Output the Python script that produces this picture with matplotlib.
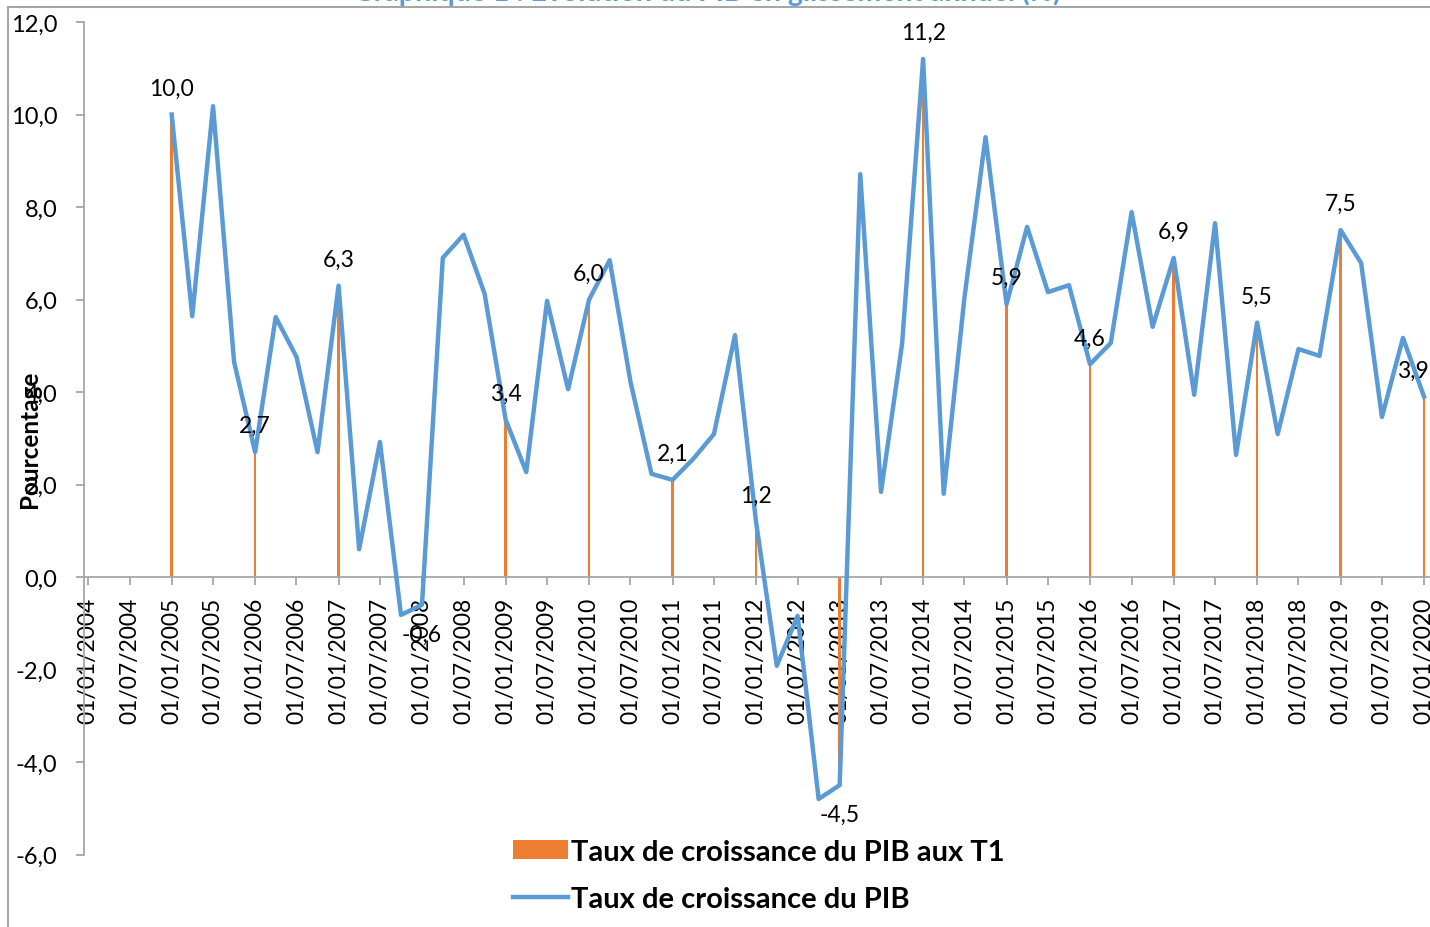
import matplotlib
matplotlib.use("Agg")
import matplotlib.pyplot as plt
import matplotlib.dates as mdates
from matplotlib.lines import Line2D
from matplotlib.ticker import FuncFormatter
import pandas as pd

# quarterly GDP growth (year-on-year, %), 2005Q1 .. 2020Q1
quarters = pd.date_range("2005-01-01", "2020-01-01", freq="QS")
pib = [10.0, 5.64, 10.18, 4.65,
       2.7, 5.62, 4.76, 2.7,
       6.3, 0.6, 2.92, -0.82,
       -0.6, 6.9, 7.4, 6.12,
       3.4, 2.27, 5.97, 4.06,
       6.0, 6.85, 4.22, 2.23,
       2.1, 2.55, 3.09, 5.23,
       1.2, -1.92, -0.84, -4.8,
       -4.5, 8.71, 1.84, 5.04,
       11.2, 1.8, 6.05, 9.51,
       5.9, 7.57, 6.16, 6.31,
       4.6, 5.06, 7.89, 5.41,
       6.9, 3.94, 7.65, 2.64,
       5.5, 3.09, 4.93, 4.78,
       7.5, 6.79, 3.46, 5.17,
       3.9]

# first quarter of each year
t1_dates = pd.date_range("2005-01-01", "2020-01-01", freq="YS")
t1_values = [10.0, 2.7, 6.3, -0.6, 3.4, 6.0, 2.1, 1.2, -4.5, 11.2,
             5.9, 4.6, 6.9, 5.5, 7.5, 3.9]

tick_dates = pd.date_range("2004-01-01", "2020-01-01", freq="6MS")

blue = "#5b9bd5"
orange = "#ed7d31"
grey = "#a6a6a6"
font = ["Lato", "DejaVu Sans"]

plt.rcParams["font.family"] = font

W, H = 1430, 928
fig = plt.figure(figsize=(W / 100, H / 100), dpi=100)
ax = fig.add_axes([84 / W, 1 - 855.5 / H, (W - 84) / W, (855.5 - 23) / H])

bars = ax.bar(t1_dates, t1_values, width=11, color=orange, zorder=2,
              label="Taux de croissance du PIB aux T1")
line, = ax.plot(quarters, pib, color=blue, lw=3.2, zorder=3,
                label="Taux de croissance du PIB")

# data labels on the T1 values
for d, v in zip(t1_dates, t1_values):
    dy = 19 if v >= 0 else -21
    dx = -8 if d == t1_dates[-1] else 0
    ax.annotate(f"{v:.1f}".replace(".", ","), (d, v), xytext=(dx, dy),
                textcoords="offset points", ha="center", va="center",
                fontsize=16.5, color="black", zorder=5)

# axes
ppd = (1424 - 88) / (tick_dates[-1] - tick_dates[0]).days
ax.set_xlim(tick_dates[0] - pd.Timedelta(days=4 / ppd),
            tick_dates[-1] + pd.Timedelta(days=6 / ppd))
ax.set_ylim(-6, 12)
ax.set_yticks(range(-6, 13, 2))
ax.yaxis.set_major_formatter(FuncFormatter(lambda v, p: f"{v:.1f}".replace(".", ",")))
ax.set_xticks(tick_dates)
ax.xaxis.set_major_formatter(mdates.DateFormatter("%d/%m/%Y"))

for s in ["top", "right"]:
    ax.spines[s].set_visible(False)
ax.spines["bottom"].set_position(("data", 0))
for s in ["left", "bottom"]:
    ax.spines[s].set_color(grey)
    ax.spines[s].set_linewidth(1.3)

ax.tick_params(axis="y", length=6, width=1.3, color=grey, pad=13,
               labelsize=17)
ax.tick_params(axis="x", length=6, width=1.3, color=grey, pad=8,
               labelsize=16.5, labelrotation=90)
for lab in ax.get_xticklabels():
    lab.set_va("top")

ax.set_ylabel("Pourcentage", fontsize=17.5, fontweight="bold")
ax.yaxis.set_label_coords((41 - 84) / (W - 84), 0.5)
ax.patch.set_alpha(0)

leg = ax.legend([bars, line], [bars.get_label(), line.get_label()],
                loc="upper left", bbox_to_anchor=(513 / W, 1 - 840 / H),
                bbox_transform=fig.transFigure, frameon=False,
                borderpad=0, borderaxespad=0, handlelength=1.9,
                handleheight=0.65, handletextpad=0.1, labelspacing=0.72,
                prop={"family": font, "weight": "bold", "size": 21})

# chart-area border and the cut-off title
fig.add_artist(Line2D([8 / W, 8 / W], [0, 1 - 7.5 / H], color=grey, lw=1.5))
fig.add_artist(Line2D([8 / W, 1], [1 - 7.5 / H, 1 - 7.5 / H], color=grey, lw=1.5))
fig.text(707 / W, 1 - 1.5 / H,
         "Graphique 1 : Evolution du PIB en glissement annuel (%)",
         ha="center", va="baseline", color=blue, fontweight="bold", fontsize=20.5)

fig.savefig("out.png", dpi=100)
